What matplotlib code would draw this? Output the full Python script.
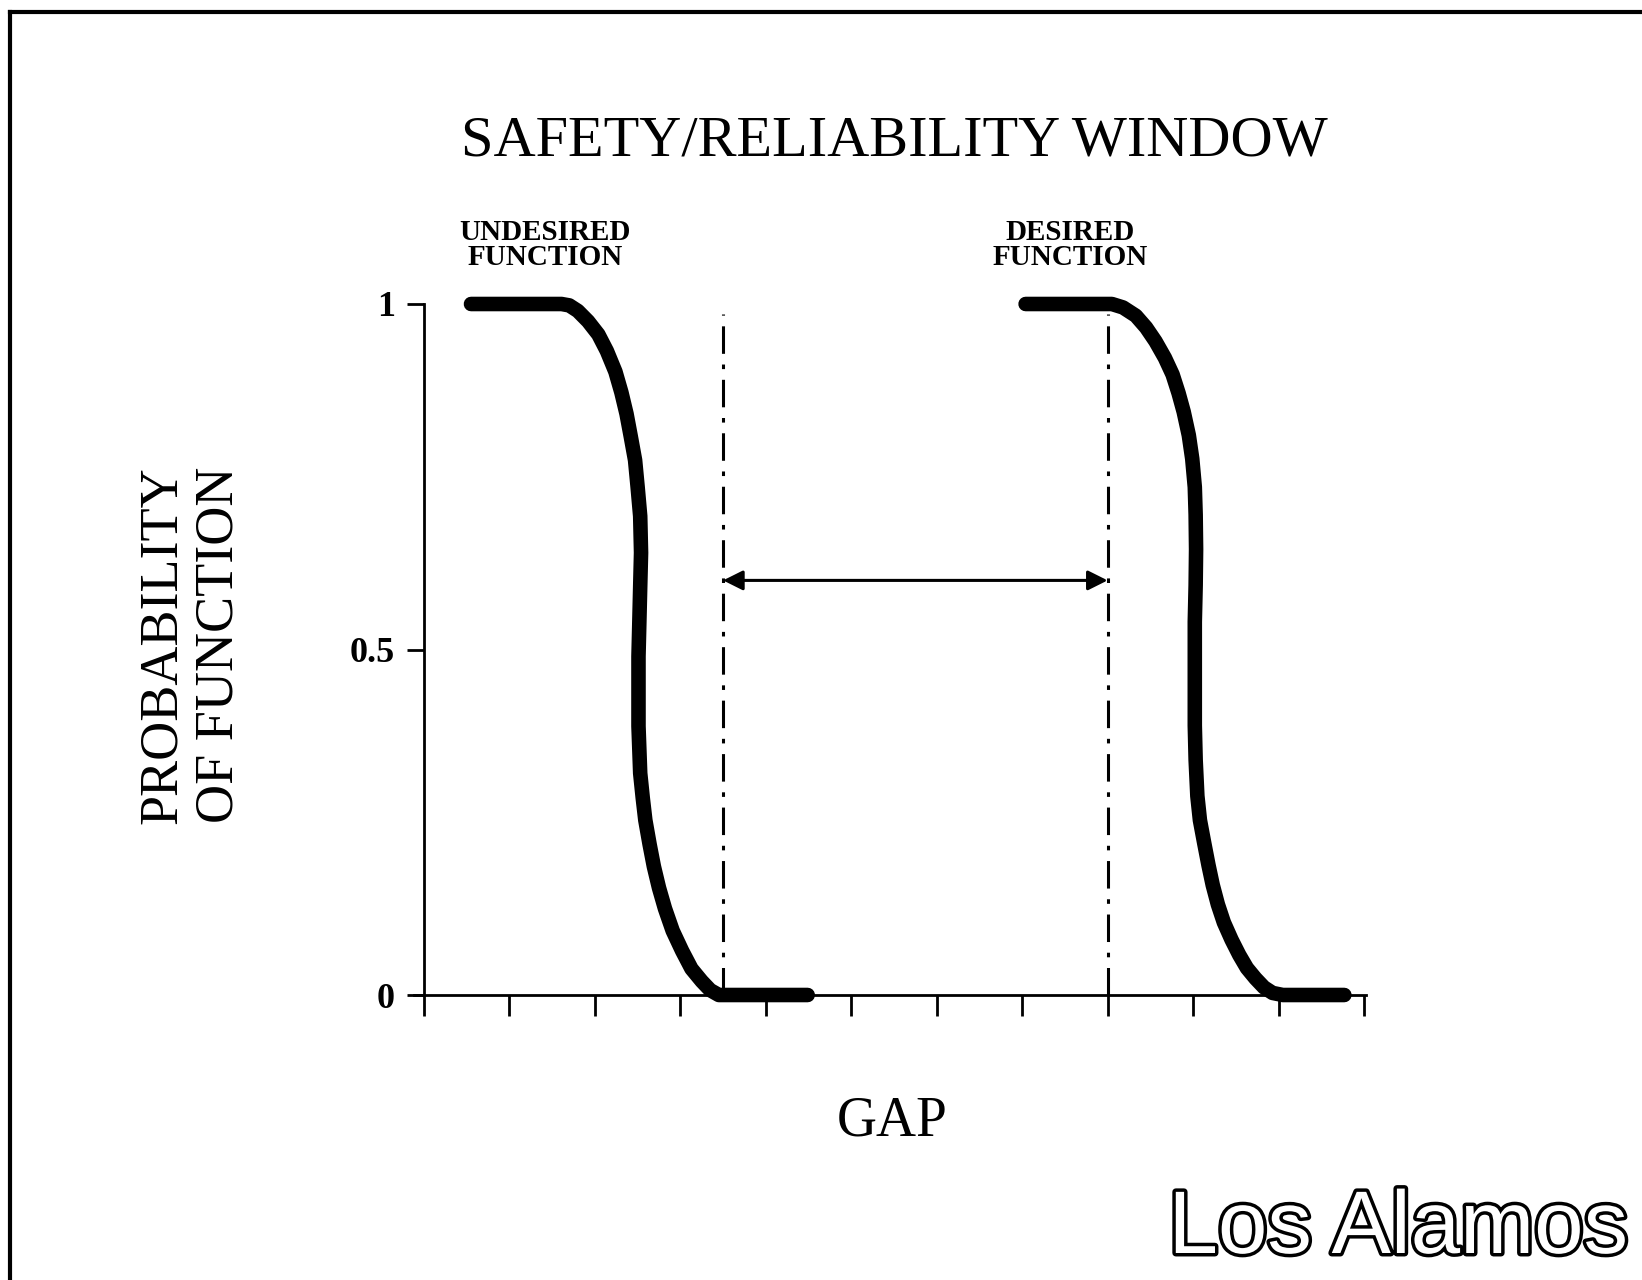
import matplotlib
matplotlib.use("Agg")
import matplotlib.pyplot as plt
from matplotlib.lines import Line2D
import matplotlib.patheffects as pe

# ---- data (gap in tick units, probability) ----
undesired_gap = [0.55, 1.61, 1.70, 1.80, 1.92, 2.04, 2.14, 2.24, 2.31, 2.37, 2.42, 2.47,
                 2.50, 2.53, 2.54, 2.53, 2.52, 2.51, 2.51, 2.51, 2.52, 2.53, 2.56, 2.59,
                 2.64, 2.69, 2.75, 2.82, 2.91, 3.02, 3.13, 3.25, 3.35, 3.45, 4.49]
undesired_prob = [1.0, 1.0, 0.998, 0.990, 0.975, 0.956, 0.932, 0.902, 0.872, 0.841, 0.808,
                  0.774, 0.735, 0.693, 0.640, 0.591, 0.540, 0.490, 0.440, 0.389, 0.355,
                  0.321, 0.285, 0.253, 0.218, 0.186, 0.155, 0.125, 0.093, 0.064, 0.038,
                  0.020, 0.007, 0.0, 0.0]
desired_gap = [7.04, 8.05, 8.18, 8.33, 8.45, 8.56, 8.67, 8.76, 8.83, 8.89, 8.95, 8.99,
               9.02, 9.03, 9.035, 9.03, 9.02, 9.02, 9.02, 9.02, 9.03, 9.05, 9.08, 9.13,
               9.18, 9.23, 9.29, 9.36, 9.45, 9.54, 9.63, 9.73, 9.83, 9.93, 10.05, 10.77]
desired_prob = [1.0, 1.0, 0.995, 0.983, 0.966, 0.946, 0.922, 0.898, 0.871, 0.844, 0.810,
                0.776, 0.735, 0.695, 0.645, 0.593, 0.540, 0.490, 0.440, 0.390, 0.340,
                0.288, 0.253, 0.220, 0.188, 0.159, 0.131, 0.105, 0.080, 0.058, 0.039,
                0.024, 0.011, 0.003, 0.0, 0.0]
window_edges = [3.5, 8.0]
window_top = 0.985
arrow_level = 0.60
x_ticks = list(range(0, 12))
y_ticks = [0, 0.5, 1]
y_tick_labels = ["0", "0.5", "1"]

title = "SAFETY/RELIABILITY WINDOW"
ylabel = "PROBABILITY\nOF FUNCTION"
xlabel = "GAP"
label_undesired = "UNDESIRED\nFUNCTION"
label_desired = "DESIRED\nFUNCTION"
logo = "Los Alamos"

W, H = 1642, 1280
fig = plt.figure(figsize=(W / 100, H / 100), dpi=100)
fig.patch.set_facecolor("white")

serif = ["Liberation Serif", "DejaVu Serif"]

# axes placement (pixels -> figure fraction)
x0_px, x11_px = 424, 1364
unit = (x11_px - x0_px) / 11.0
xmin, xmax = -0.12, 11.02
left = (x0_px + xmin * unit) / W
width = (xmax - xmin) * unit / W
y0_px, y1_px = 995, 304
ax = fig.add_axes([left, 1 - y0_px / H, width, (y0_px - y1_px) / H])
ax.set_xlim(xmin, xmax)
ax.set_ylim(0, 1)
ax.patch.set_alpha(0)

for s in ["top", "right"]:
    ax.spines[s].set_visible(False)
ax.spines["left"].set_position(("data", 0))
ax.spines["left"].set_linewidth(2.0)
ax.spines["bottom"].set_linewidth(2.0)

ax.set_xticks(x_ticks)
ax.set_xticklabels([])
ax.tick_params(axis="x", direction="out", length=15, width=2.0)
ax.set_yticks(y_ticks)
ax.set_yticklabels(y_tick_labels, fontfamily=serif, fontweight="bold", fontsize=26)
ax.tick_params(axis="y", direction="out", length=12, width=2.0, pad=9)

# curves
ax.plot(undesired_gap, undesired_prob, color="black", lw=10.5,
        solid_capstyle="round", solid_joinstyle="round", clip_on=False, zorder=3)
ax.plot(desired_gap, desired_prob, color="black", lw=10.5,
        solid_capstyle="round", solid_joinstyle="round", clip_on=False, zorder=3)

# window edges (dash-dot)
for xe in window_edges:
    ax.plot([xe, xe], [0, window_top], color="black", lw=2.2,
            linestyle=(0, (9, 3.5, 1.5, 3.5)), clip_on=False, zorder=2)

# arrow
ax.annotate("", xy=(window_edges[0], arrow_level), xytext=(window_edges[1], arrow_level),
            arrowprops=dict(arrowstyle="<|-|>", color="black", lw=2.2,
                            mutation_scale=30, shrinkA=0, shrinkB=0))

# texts
fig.text(894 / W, 1 - 155 / H, title, ha="center", va="baseline",
         fontfamily=serif, fontsize=42)
fig.text(191 / W, 1 - 645 / H, ylabel, ha="center", va="center", rotation=90,
         multialignment="center", fontfamily=serif, fontsize=39, linespacing=1.15)
fig.text(892 / W, 1 - 1136 / H, xlabel, ha="center", va="baseline",
         fontfamily=serif, fontsize=40)
fig.text(545 / W, 1 - 245 / H, label_undesired, ha="center", va="center",
         fontfamily=serif, fontweight="bold", fontsize=21, linespacing=0.95)
fig.text(1070 / W, 1 - 245 / H, label_desired, ha="center", va="center",
         fontfamily=serif, fontweight="bold", fontsize=21, linespacing=0.95)

fig.text(1628 / W, 1 - 1253 / H, logo, ha="right", va="baseline",
         fontfamily=["Liberation Sans", "DejaVu Sans"], fontsize=64, color="white",
         path_effects=[pe.withStroke(linewidth=5, foreground="black")])

# page frame
fig.add_artist(Line2D([10 / W, 10 / W], [0, 1 - 12 / H], color="black", lw=3,
                      transform=fig.transFigure))
fig.add_artist(Line2D([10 / W, 1], [1 - 12 / H, 1 - 12 / H], color="black", lw=3,
                      transform=fig.transFigure))

fig.savefig("out.png", dpi=100, facecolor="white")
